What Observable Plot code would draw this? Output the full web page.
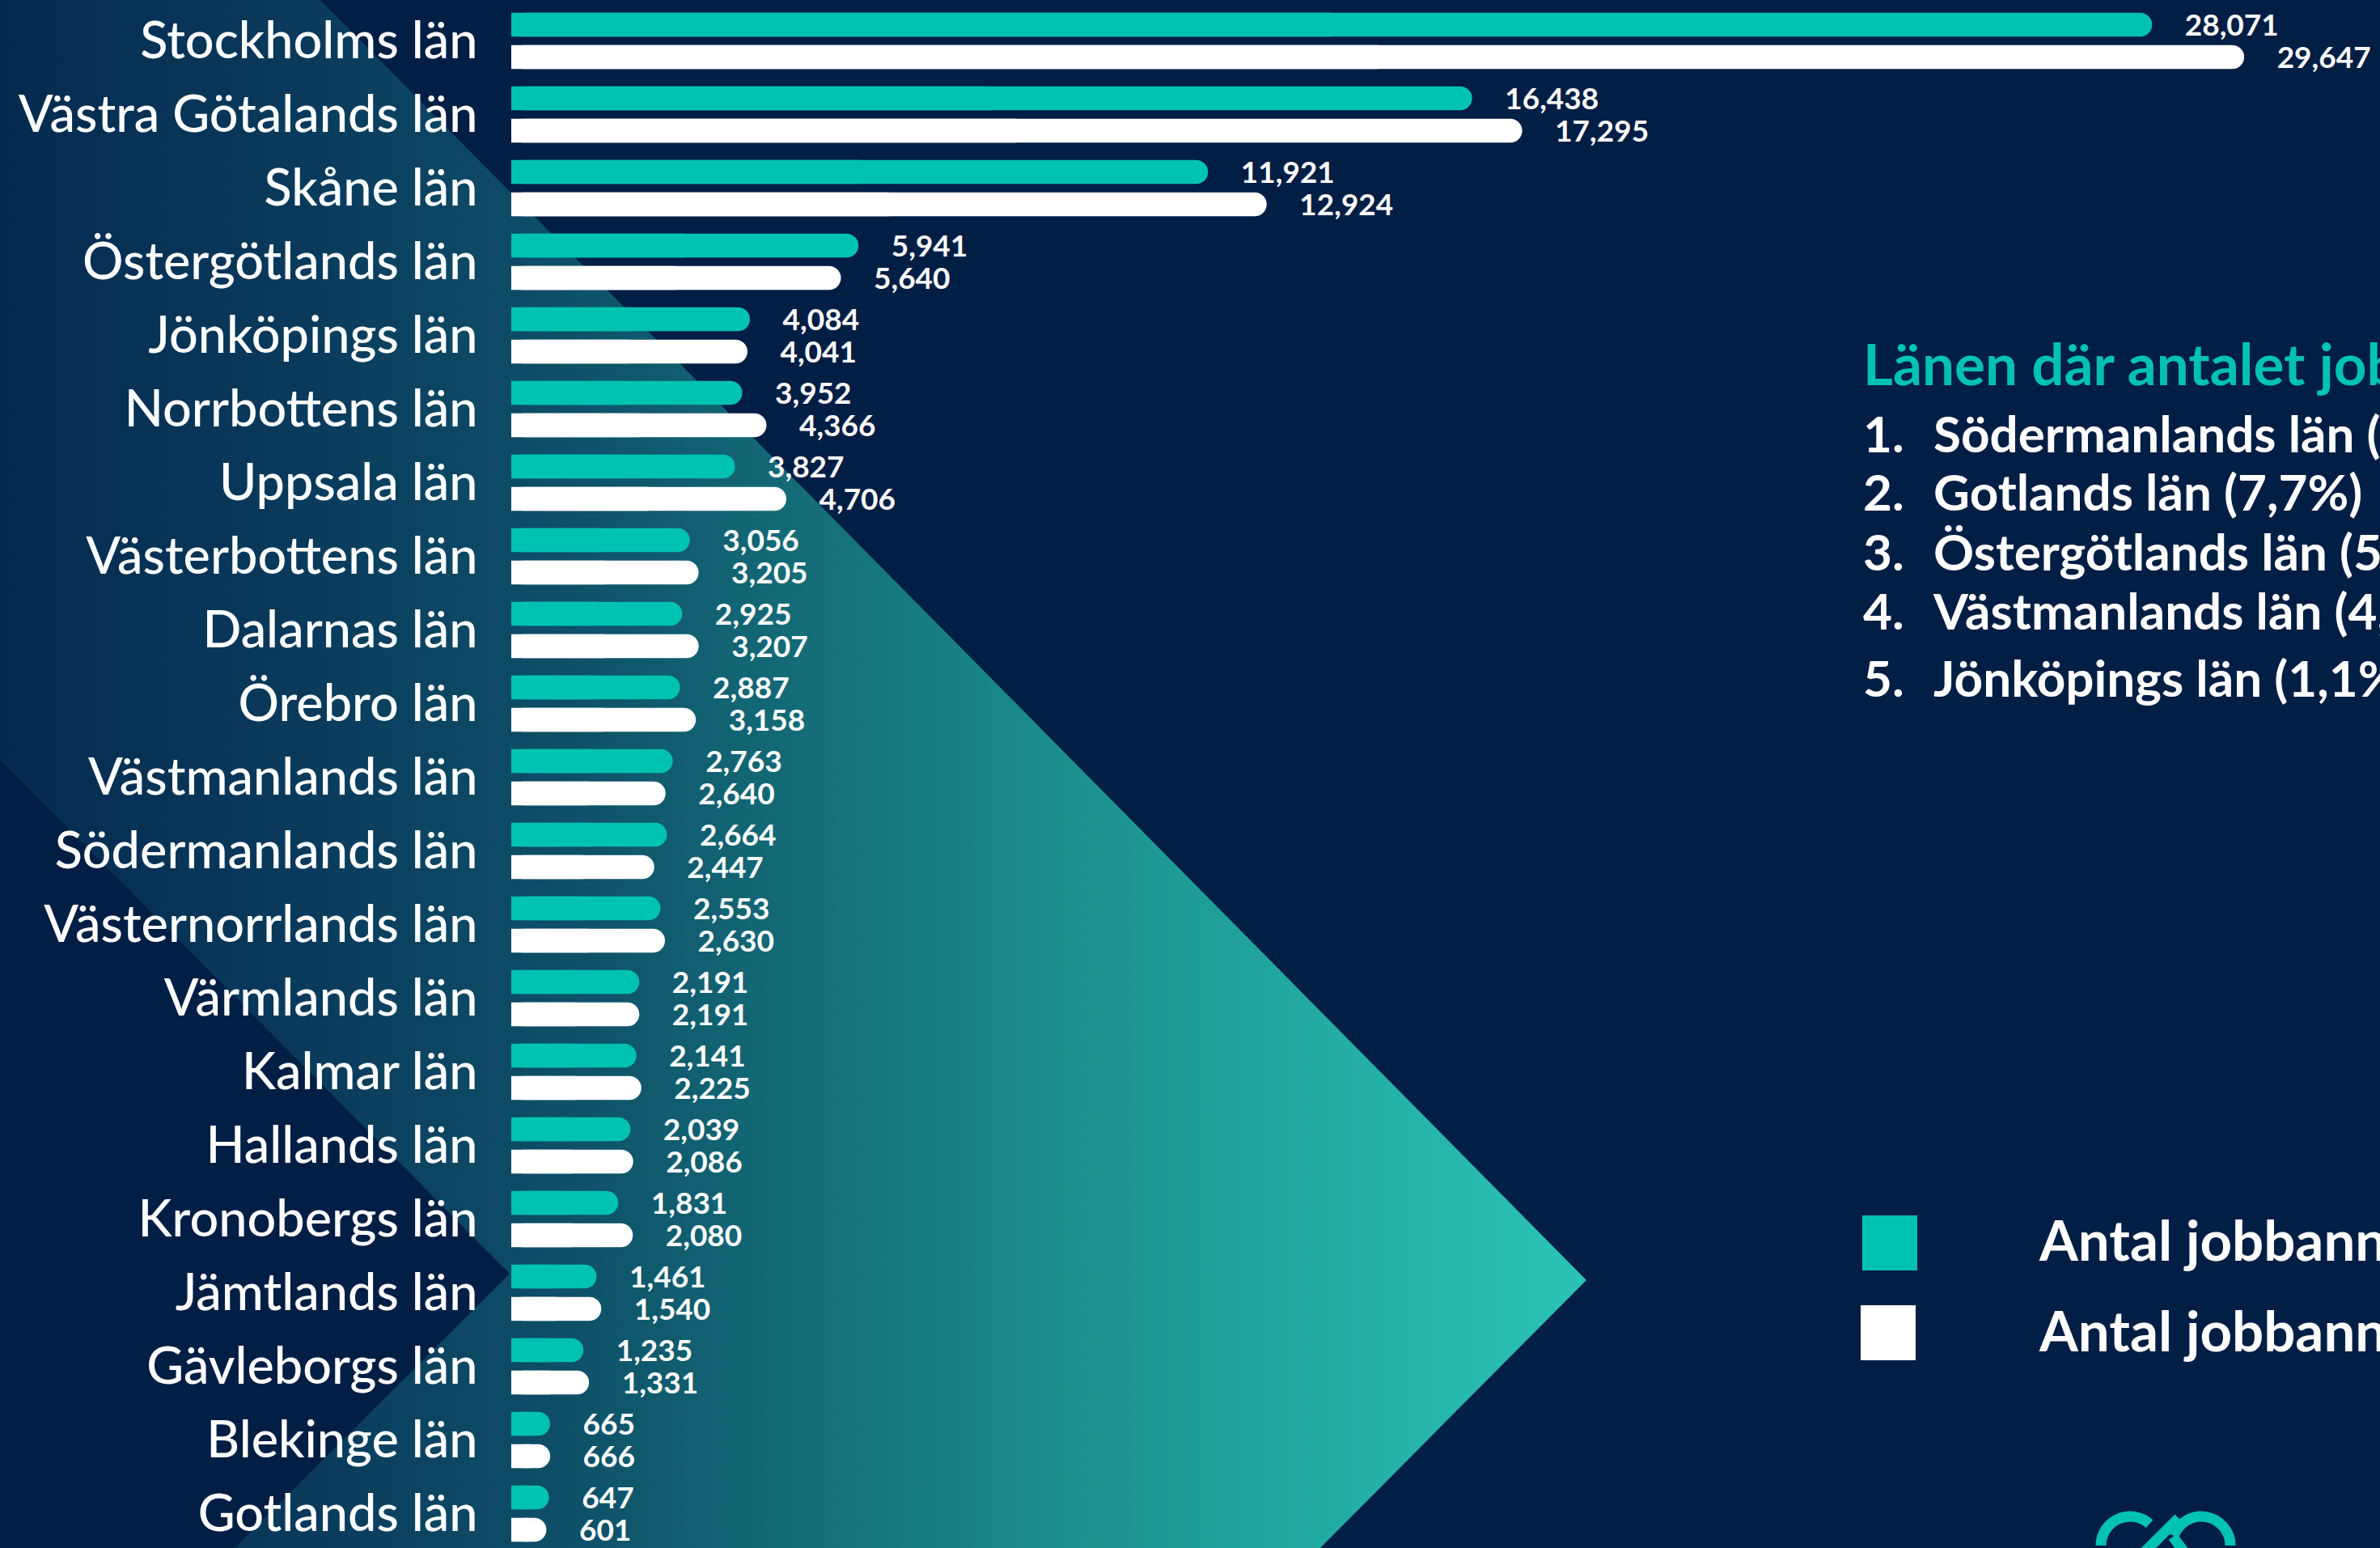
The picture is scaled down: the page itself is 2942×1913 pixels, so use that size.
<!DOCTYPE html>
<html><head><meta charset="utf-8">
<script src="https://cdn.jsdelivr.net/npm/d3@7"></script>
<script src="https://cdn.jsdelivr.net/npm/@observablehq/plot@0.6"></script>
<style>
html,body{margin:0;padding:0;overflow:hidden;background:#011e44;}
#stage{position:relative;width:2942px;height:1913px;overflow:hidden;background:#011e44;}
#stage > svg{position:absolute;left:0;top:0;}
</style></head><body><div id="stage"></div>
<script>
// ---- data ----
const categories = ["Stockholms län","Västra Götalands län","Skåne län","Östergötlands län","Jönköpings län","Norrbottens län","Uppsala län","Västerbottens län","Dalarnas län","Örebro län","Västmanlands län","Södermanlands län","Västernorrlands län","Värmlands län","Kalmar län","Hallands län","Kronobergs län","Jämtlands län","Gävleborgs län","Blekinge län","Gotlands län"];
const newerValues = [28071,16438,11921,5941,4084,3952,3827,3056,2925,2887,2763,2664,2553,2191,2141,2039,1831,1461,1235,665,647];
const olderValues = [29647,17295,12924,5640,4041,4366,4706,3205,3207,3158,2640,2447,2630,2191,2225,2086,2080,1540,1331,666,601];
const seriesNames = ["Antal jobbannonser 2023","Antal jobbannonser 2022"];
const sideTitle = "Länen där antalet jobbannonser har ökat";

// ---- style ----
const W = 2942, H = 1913;
const NAVY = "#011e44", TEAL = "#00c2b2", WHITE = "#ffffff";
const FONT = "Lato, 'Open Sans', sans-serif";

const stage = d3.select("#stage");

// background decoration
const bg = stage.append("svg").attr("width", W).attr("height", H);
const grad = bg.append("defs").append("linearGradient").attr("id","chev")
  .attr("gradientUnits","userSpaceOnUse").attr("x1",0).attr("y1",0).attr("x2",1961).attr("y2",0);
[[0,"#052a4f"],[0.2,"#0a3b5c"],[0.36,"#0e5068"],[0.51,"#146d78"],[0.66,"#1b8c8d"],[0.82,"#22a8a2"],[1,"#2bc3b6"]]
  .forEach(([o,c]) => grad.append("stop").attr("offset",o).attr("stop-color",c));
bg.append("rect").attr("width",W).attr("height",H).attr("fill",NAVY);
bg.append("polygon").attr("fill","url(#chev)")
  .attr("points","0,0 396,0 1961,1582 1632,1913 290,1913 630,1574 0,939");

// ---- chart ----
const rows = categories.map((c,i) => ({cat:c, newer:newerValues[i], older:olderValues[i]}));
const fmt = d3.format(",");

const chart = Plot.plot({
  width: W, height: H,
  marginLeft: 632, marginRight: 0, marginTop: 0, marginBottom: 0,
  style: {background: "transparent", fontFamily: FONT, color: WHITE},
  x: {domain: [0, 31970], axis: null},
  y: {domain: categories, range: [0, 1921.5], padding: 0, axis: null},
  marks: [
    Plot.barX(rows, {x: "newer", y: "cat", fill: TEAL, rx: 15, insetTop: 10.75, insetBottom: 50.75}),
    Plot.barX(rows, {x1: 0, x2: d => d.newer/2, y: "cat", fill: TEAL, insetTop: 10.75, insetBottom: 50.75}),
    Plot.barX(rows, {x: "older", y: "cat", fill: WHITE, rx: 15, insetTop: 50.75, insetBottom: 10.75}),
    Plot.barX(rows, {x1: 0, x2: d => d.older/2, y: "cat", fill: WHITE, insetTop: 50.75, insetBottom: 10.75}),
    Plot.text(rows, {x: "newer", y: "cat", text: d => fmt(d.newer), dx: 40, dy: -19, textAnchor: "start", fill: WHITE, fontWeight: 700, fontSize: 37}),
    Plot.text(rows, {x: "older", y: "cat", text: d => fmt(d.older), dx: 40, dy: 21, textAnchor: "start", fill: WHITE, fontWeight: 700, fontSize: 37}),
    Plot.text(rows, {y: "cat", text: "cat", frameAnchor: "left", textAnchor: "end", dx: -42, dy: 1, fill: WHITE, fontSize: 63, fontWeight: 500})
  ]
});
stage.node().appendChild(chart);

// ---- side panel: title, ranked list, legend, logo ----
const ov = stage.append("svg").attr("width", W).attr("height", H)
  .style("font-family", FONT).style("pointer-events","none");

ov.append("text").attr("x",2303).attr("y",476).attr("fill",TEAL)
  .attr("font-size",71).attr("font-weight",700).text(sideTitle);

const pctFmt = v => d3.format(".1f")(v).replace(".", ",") + "%";
const growth = rows.map(r => ({cat: r.cat, g: (r.newer - r.older) / r.older * 100}))
  .filter(d => d.g > 0).sort((a,b) => b.g - a.g).slice(0,5);
const listY = [559, 631, 705, 778, 861];
growth.forEach((d,i) => {
  ov.append("text").attr("x",2303).attr("y",listY[i]).attr("fill",WHITE)
    .attr("font-size",62).attr("font-weight",700).text(`${i+1}.`);
  ov.append("text").attr("x",2390).attr("y",listY[i]).attr("fill",WHITE)
    .attr("font-size",62).attr("font-weight",700).text(`${d.cat} (${pctFmt(d.g)})`);
});

const legendItems = [{name: seriesNames[0], color: TEAL, x: 2302, y: 1502, ty: 1558},
                     {name: seriesNames[1], color: WHITE, x: 2300, y: 1613, ty: 1670}];
legendItems.forEach(l => {
  ov.append("rect").attr("x",l.x).attr("y",l.y).attr("width",68).attr("height",68).attr("fill",l.color);
  ov.append("text").attr("x",2521).attr("y",l.ty).attr("fill",WHITE)
    .attr("font-size",69).attr("font-weight",700).text(l.name);
});

// logo (partial, cut at bottom edge)
const logo = ov.append("g").attr("fill","none").attr("stroke",TEAL).attr("stroke-width",13);
const arc = (cx, cy, r, a0, a1) => {
  const p = d3.path();
  p.arc(cx, cy, r, a0 * Math.PI/180, a1 * Math.PI/180);
  return p.toString();
};
logo.append("path").attr("d", arc(2633, 1910, 36, 180, 312));
logo.append("path").attr("d", arc(2721, 1910, 36, 200, 360));
logo.append("line").attr("x1",2645).attr("y1",1924).attr("x2",2693).attr("y2",1876);
logo.append("line").attr("x1",2686).attr("y1",1899).attr("x2",2700).attr("y2",1918);
</script></body></html>
